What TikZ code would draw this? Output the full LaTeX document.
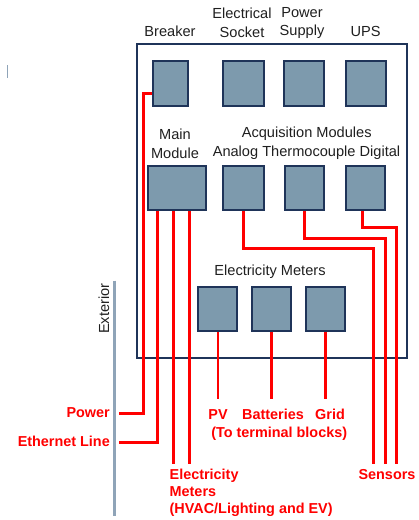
\documentclass[tikz,border=0pt]{standalone}
\usepackage{fontspec}
\setmainfont{Liberation Sans}
\definecolor{boxfill}{HTML}{7D9AAD}
\definecolor{boxline}{HTML}{1F3459}
\definecolor{extline}{HTML}{8FA4B8}
\definecolor{wirered}{HTML}{FF0000}
\begin{document}
\begin{tikzpicture}[x=1pt,y=-1pt,
  box/.style={draw=boxline,line width=1.8pt,fill=boxfill,inner sep=0pt,minimum height=44.3pt},
  lbl/.style={font=\fontsize{14.6}{18.5}\selectfont,text=black!88,inner sep=0pt,align=center},
  rlbl/.style={font=\fontsize{14.4}{17}\selectfont\bfseries,text=wirered,inner sep=0pt},
  wire/.style={draw=wirered,line width=2.5pt}]
\useasboundingbox (0,0) rectangle (419,520);
% small mark
\draw[extline,line width=1pt] (7.3,65) coordinate (m1) -- (7.3,78) coordinate (m2);
% enclosure
\draw[boxline,line width=1.8pt] (136.7,44.3) rectangle (406.7,358.3);
% top row
\node[box,minimum width=35pt] (brk) at (170.8,83.5) {};
\node[box,minimum width=40.7pt] (soc) at (243.7,83.5) {};
\node[box,minimum width=40.3pt] (psu) at (304.2,83.5) {};
\node[box,minimum width=40.3pt] (ups) at (365.8,83.5) {};
% middle row
\node[box,minimum width=58.3pt] (main) at (176.8,187.8) {};
\node[box,minimum width=40.7pt] (ana) at (243.7,187.8) {};
\node[box,minimum width=39.3pt] (thc) at (304.7,187.8) {};
\node[box,minimum width=39.3pt] (dig) at (365.3,187.8) {};
% meters
\node[box,minimum width=39pt] (pv) at (217.8,308.8) {};
\node[box,minimum width=38.7pt] (bat) at (271.7,308.8) {};
\node[box,minimum width=39pt] (grd) at (325.5,308.8) {};
% labels
\node[lbl] (lbrk) at (170,31.7) {Breaker};
\node[lbl] (lsoc) at (242,22.8) {Electrical\\Socket};
\node[lbl] (lpsu) at (302,22.8) {Power\\Supply};
\node[lbl] (lups) at (365.7,31) {UPS};
\node[lbl] (lmain) at (175,143.7) {Main\\Module};
\node[lbl] (lacq) at (306.7,133.3) {Acquisition Modules};
\node[lbl] (ltyp) at (306.5,152.3) {Analog Thermocouple Digital};
\node[lbl] (lem) at (270,271.7) {Electricity Meters};
% exterior
\draw[extline,line width=3pt] (114.3,280.7) coordinate (e1) -- (114.3,516) coordinate (e2);
\node[lbl,rotate=90] (lext) at (104,308.7) {Exterior};
% red labels
\node[rlbl,anchor=east] (lpow) at (110,412.3) {Power};
\node[rlbl,anchor=east] (leth) at (110,441.7) {Ethernet Line};
\node[rlbl] (lpv) at (218,414.3) {PV};
\node[rlbl] (lbat) at (273,414.3) {Batteries};
\node[rlbl] (lgrd) at (330,414.3) {Grid};
\node[rlbl] (lterm) at (279.2,434) {(To terminal blocks)};
\node[rlbl,align=left,anchor=north west] (lemx) at (169.5,468.5) {Electricity\\Meters\\(HVAC/Lighting and EV)};
\node[rlbl] (lsen) at (387,474.3) {Sensors};
% wire ends
\coordinate (pwend) at (119.3,413.3);
\coordinate (ethend) at (119.3,442.7);
% wires
\draw[wire] (brk.west |- 0,93.3) -| (143.3,413.3) -- (pwend);
\draw[wire] (main.south -| 157.3,0) |- (ethend);
\draw[wire] (main.south -| 173.3,0) -- (173.3,464) coordinate (em1);
\draw[wire] (main.south -| 189.3,0) -- (189.3,464) coordinate (em2);
\draw[wire] (ana.south) |- (373.3,248.3) -- (373.3,464) coordinate (s1);
\draw[wire] (thc.south) |- (385.7,238.3) -- (385.7,464) coordinate (s2);
\draw[wire] (dig.south -| 362.7,0) |- (396.7,227.3) -- (396.7,464) coordinate (s3);
\draw[wire] (pv.south) -- (pv.south |- 0,399.3) coordinate (pvend);
\draw[wire] (bat.south) -- (bat.south |- 0,399.3) coordinate (batend);
\draw[wire] (grd.south) -- (grd.south |- 0,399.3) coordinate (grdend);
\end{tikzpicture}
\end{document}
